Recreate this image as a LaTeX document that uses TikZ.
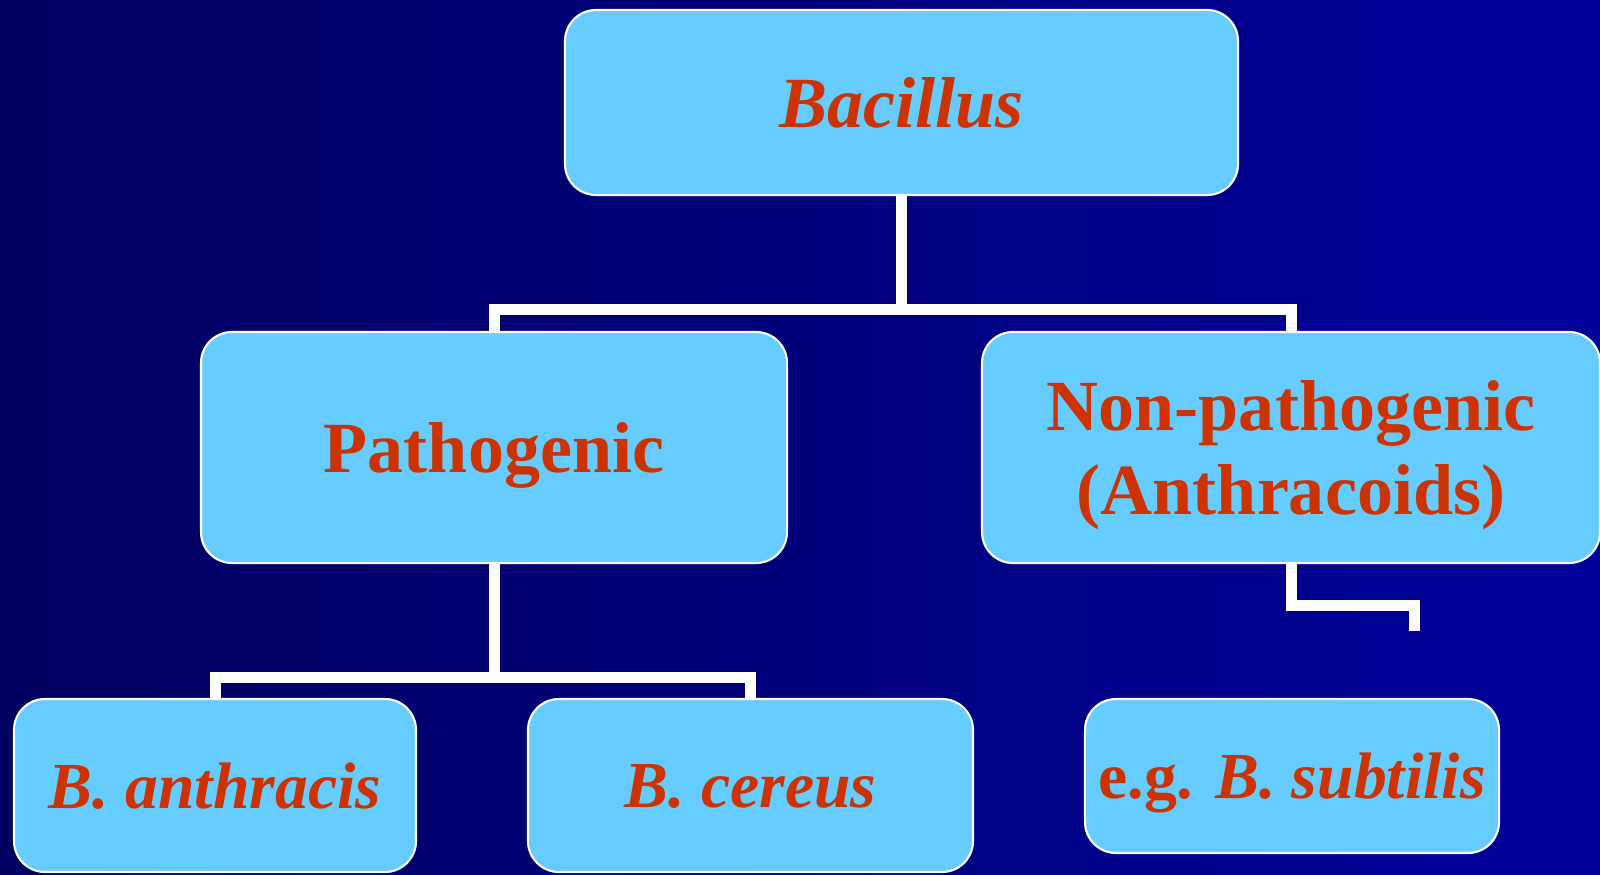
\documentclass[tikz,border=0pt]{standalone}
\usepackage{fontspec}
\setmainfont{Liberation Serif}
\definecolor{boxblue}{HTML}{66CCFF}
\definecolor{txtred}{HTML}{CC3300}
\definecolor{bgleft}{HTML}{000060}
\definecolor{bgright}{HTML}{00009A}

\begin{document}
\begin{tikzpicture}[
    box/.style={draw=white, line width=0.6pt, fill=boxblue, rounded corners=0.31cm, align=center, text=txtred, font=\fontsize{20.5}{23.9}\selectfont\bfseries, inner sep=0pt, text depth=0pt},
    leaf/.style={box, font=\fontsize{18.7}{21}\selectfont\bfseries},
    conn/.style={draw=white, line width=0.11cm}]
    \useasboundingbox (0,0) rectangle (16,-8.74);
    \shade[left color=bgleft, right color=bgright] (0,0) rectangle (16,-8.74);
    \node[box, minimum width=6.73cm, minimum height=1.85cm] (bac) at (9.015,-1.025) {\itshape Bacillus};
    \node[box, minimum width=5.86cm, minimum height=2.31cm] (patho) at (4.94,-4.475) {Pathogenic};
    \node[box, minimum width=6.18cm, minimum height=2.31cm] (nonpatho) at (12.91,-4.475) {Non-pathogenic\\(Anthracoids)};
    \node[leaf, minimum width=4.02cm, minimum height=1.73cm] (anth) at (2.15,-7.855) {\itshape B. anthracis};
    \node[leaf, minimum width=4.45cm, minimum height=1.73cm] (cer) at (7.505,-7.855) {\itshape B. cereus};
    \node[leaf, minimum width=4.14cm, minimum height=1.54cm] (sub) at (12.92,-7.76) {e.g. \itshape B. subtilis};
    \coordinate (subtip) at (14.14,-6.31);
    \draw[conn] (bac.south) -- ++(0,-1.13) -| (patho.north);
    \draw[conn] (bac.south) -- ++(0,-1.13) -| (nonpatho.north);
    \draw[conn] (patho.south) -- ++(0,-1.135) -| (anth.north);
    \draw[conn] (patho.south) -- ++(0,-1.135) -| (cer.north);
    \draw[conn] (nonpatho.south) -- ++(0,-0.41) -| (subtip);
\end{tikzpicture}
\end{document}
